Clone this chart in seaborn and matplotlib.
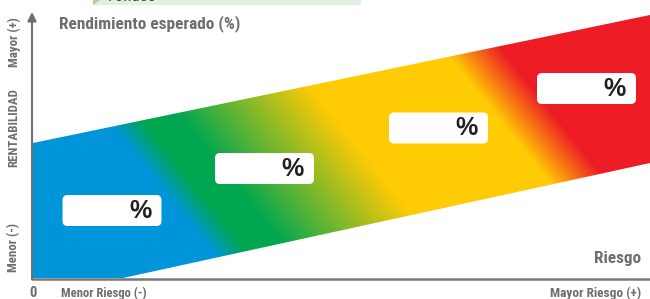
import numpy as np
import matplotlib
matplotlib.use("Agg")
import matplotlib.pyplot as plt
from matplotlib import font_manager as fm
from matplotlib.patches import Polygon, FancyBboxPatch, Rectangle
import seaborn as sns

sns.set_theme(style="white")
available = {f.name for f in fm.fontManager.ttflist}
narrow = [n for n in ["Roboto Condensed", "DejaVu Sans Condensed", "Liberation Sans Narrow"]
          if n in available]
if narrow:
    plt.rcParams['font.family'] = [narrow[0], 'Liberation Sans', 'DejaVu Sans']
    K = 1.0
else:
    plt.rcParams['font.family'] = ['Liberation Sans', 'DejaVu Sans']
    K = 0.8

# ---- data (risk = horizontal units, return = vertical units) ----
y_title = "Rendimiento esperado (%)"
x_title = "Riesgo"
y_axis_labels = ["Menor (-)", "RENTABILIDAD", "Mayor (+)"]
x_axis_labels = ["Menor Riesgo (-)", "Mayor Riesgo (+)"]
origin_label = "0"
header_label = "Fondos"

# band edges
lower_risk = [0, 90, 617]
lower_return = [0, 0, 115]
upper_risk = [0, 617]
upper_return = [135, 263]

# fund boxes (centres)
box_labels = ["%", "%", "%", "%"]
box_risk = [79, 231.5, 405.5, 553.5]
box_return = [67.5, 109.5, 150, 189.5]

# gradient colour stops along the diagonal risk/return direction
stop_pos = [0, 200, 235, 275, 430, 593, 652, 1000]
stop_colors = ["#0095DA", "#0095DA", "#00A651", "#00A651",
               "#FFCB05", "#FFCB05", "#ED1C24", "#ED1C24"]

GRAY = "#6D6E71"
DARK = "#231F20"

fig = plt.figure(figsize=(6.5, 2.99), dpi=100)
ax = fig.add_axes([0, 0, 1, 1])
ax.set_xlim(-33, 617)
ax.set_ylim(-21, 278)
ax.axis("off")

# ---- gradient band ----
xs = np.linspace(0, 617, 1234)
ys = np.linspace(0, 265, 530)
X, Y = np.meshgrid(xs, ys)
T = X + 0.8 * Y
rgb_stops = np.array([matplotlib.colors.to_rgb(c) for c in stop_colors])
img = np.dstack([np.interp(T, stop_pos, rgb_stops[:, k]) for k in range(3)])
poly_pts = list(zip(lower_risk, lower_return)) + list(zip(upper_risk[::-1], upper_return[::-1]))
band = Polygon(poly_pts, closed=True, facecolor="none", edgecolor="none")
ax.add_patch(band)
im = ax.imshow(img, extent=(0, 617, 0, 265), origin="lower", aspect="auto",
               interpolation="bilinear", zorder=1)
im.set_clip_path(band)

# ---- axes lines ----
sns.lineplot(x=[-1.5, 617], y=[-1, -1], ax=ax, color="#77787B", lw=1.8, zorder=3)
ax.annotate("", xy=(-1, 266), xytext=(-1, -1),
            arrowprops=dict(arrowstyle="-|>", color=GRAY, lw=1.5,
                            mutation_scale=13, shrinkA=0, shrinkB=0), zorder=3)

# ---- boxes ----
bw, bh, pad = 99, 31, 5
for lab, cx, cy in zip(box_labels, box_risk, box_return):
    p = FancyBboxPatch((cx - bw / 2 + pad, cy - bh / 2 + pad), bw - 2 * pad, bh - 2 * pad,
                       boxstyle=f"round,pad={pad}", facecolor="white", edgecolor="none", zorder=4)
    ax.add_patch(p)
    ax.text(cx + bw / 2 - 10, cy, lab, ha="right", va="center", fontsize=18,
            fontweight="bold", color=DARK, zorder=5,
            family=["Liberation Sans", "DejaVu Sans"])

# ---- texts ----
ax.text(26, 254.5, y_title, ha="left", va="center", fontsize=12.4 * K, fontweight="bold", color=GRAY)
ax.text(608, 20, x_title, ha="right", va="center", fontsize=12.3 * K, fontweight="bold", color=GRAY)
for lab, yy in zip(y_axis_labels, [30, 127.5 * 0 + 150.5, 235.5]):
    ax.text(-19, yy, lab, ha="center", va="center", rotation=90, fontsize=9.3 * K,
            fontweight="bold", color=GRAY)
ax.text(0.5, -15, origin_label, ha="center", va="center", fontsize=10.5, fontweight="bold", color=GRAY)
ax.text(28, -15, x_axis_labels[0], ha="left", va="center", fontsize=9.1 * K, fontweight="bold", color=GRAY)
ax.text(608, -15, x_axis_labels[1], ha="right", va="center", fontsize=9.6 * K, fontweight="bold", color=GRAY)

# ---- header strip (partially cut, as in the reference) ----
fig.patches.append(Rectangle((93 / 650, 1 - 5 / 299), (361 - 93) / 650, 10 / 299,
                             transform=fig.transFigure, facecolor="#E1F0E2", edgecolor="none"))
fig.patches.append(Polygon([(93 / 650, 1 - 5 / 299), (100 / 650, 1), (93 / 650, 1)],
                           closed=True, transform=fig.transFigure, facecolor="#A9D49B",
                           edgecolor="none"))
fig.text(108 / 650, 1 - 4 / 299, header_label, ha="left", va="bottom", fontsize=12, color="#414042")

fig.savefig("out.png", dpi=100)
